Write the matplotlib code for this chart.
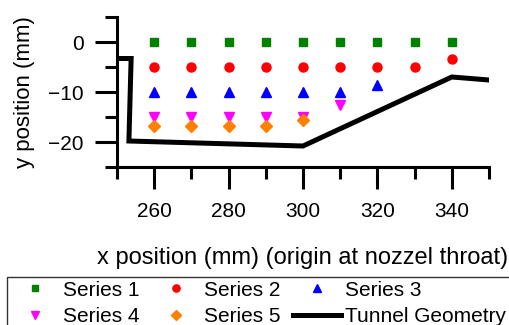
import matplotlib
matplotlib.use("Agg")
import matplotlib.pyplot as plt
from matplotlib.ticker import MultipleLocator

plt.rcParams["font.family"] = ["Liberation Sans", "DejaVu Sans"]

# measurement grid (mm)
x_s1 = [260, 270, 280, 290, 300, 310, 320, 330, 340]
y_s1 = [0, 0, 0, 0, 0, 0, 0, 0, 0]
x_s2 = [260, 270, 280, 290, 300, 310, 320, 330, 340]
y_s2 = [-5, -5, -5, -5, -5, -5, -5, -5, -3.4]
x_s3 = [260, 270, 280, 290, 300, 310, 320]
y_s3 = [-10, -10, -10, -10, -10, -10, -8.5]
x_s4 = [260, 270, 280, 290, 300, 310]
y_s4 = [-15, -15, -15, -15, -15, -12.5]
x_s5 = [260, 270, 280, 290, 300]
y_s5 = [-16.8, -16.8, -16.8, -16.8, -15.6]

# tunnel wall outline
x_tunnel = [250, 253.8, 253.2, 300, 340, 350]
y_tunnel = [-3.3, -3.3, -19.8, -20.8, -7.0, -7.6]

fig = plt.figure(figsize=(5.1, 3.25), dpi=100)
ax = fig.add_axes([117 / 510, 1 - 167 / 325, 372 / 510, 150 / 325])

ms = 6.5
h1, = ax.plot(x_s1, y_s1, ls="", marker="s", ms=ms - 0.5, color="#008000", label="Series 1")
h2, = ax.plot(x_s2, y_s2, ls="", marker="o", ms=ms, color="#ff0000", label="Series 2")
h3, = ax.plot(x_s3, y_s3, ls="", marker="^", ms=ms + 0.5, color="#0000ff", label="Series 3")
h4, = ax.plot(x_s4, y_s4, ls="", marker="v", ms=ms + 0.5, color="#ff00ff", label="Series 4")
h5, = ax.plot(x_s5, y_s5, ls="", marker="D", ms=ms - 0.5, color="#ff8000", label="Series 5")
ht, = ax.plot(x_tunnel, y_tunnel, color="black", lw=3.6, solid_joinstyle="miter",
              label="Tunnel Geometry")

ax.set_xlim(250, 350)
ax.set_ylim(-25, 5)
ax.xaxis.set_minor_locator(MultipleLocator(10))
ax.yaxis.set_minor_locator(MultipleLocator(5))
ax.set_xticks([260, 280, 300, 320, 340])
ax.set_yticks([0, -10, -20])

for side in ("top", "right"):
    ax.spines[side].set_visible(False)
for side in ("left", "bottom"):
    ax.spines[side].set_linewidth(2.2)

ax.tick_params(which="major", direction="out", length=16, width=2.2, labelsize=15)
ax.tick_params(which="minor", direction="out", length=8.5, width=2.2)
ax.tick_params(axis="x", which="major", pad=9)
ax.tick_params(axis="y", which="major", pad=8)

ax.set_xlabel("x position (mm) (origin at nozzel throat)", fontsize=17)
ax.set_ylabel("y position (mm)", fontsize=16)
ax.xaxis.set_label_coords(0.5, -0.533)
ax.yaxis.set_label_coords(-0.22, 0.5)

# row-wise order: S1 S2 S3 / S4 S5 Tunnel (legend fills column by column)
handles = [h1, h4, h2, h5, h3, ht]
leg = fig.legend(handles=handles, labels=[h.get_label() for h in handles],
                 loc="upper left", bbox_to_anchor=(7 / 510, 1 - 277 / 325),
                 ncol=3, fontsize=15, frameon=True, fancybox=False,
                 edgecolor="black", borderaxespad=0, borderpad=0.18,
                 handlelength=2.3, handletextpad=0.2, columnspacing=0.6,
                 labelspacing=0.35, markerscale=0.8)
leg.get_frame().set_linewidth(1.0)

fig.savefig("out.png", dpi=100)
